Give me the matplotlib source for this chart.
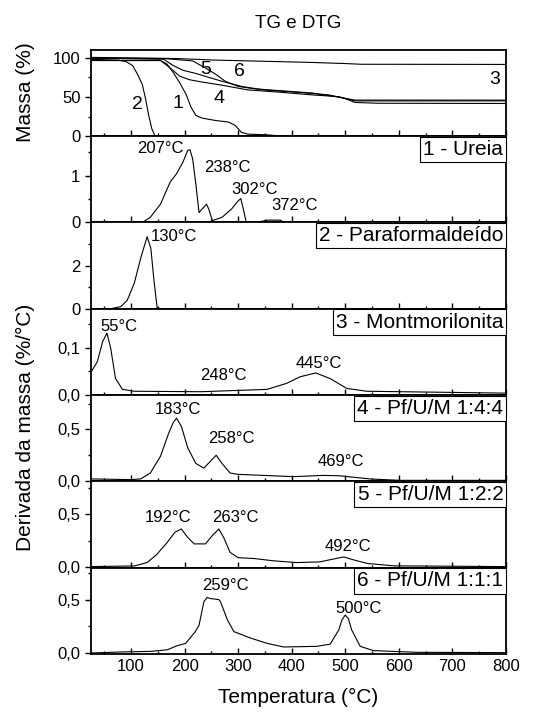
import matplotlib
matplotlib.use("Agg")
import matplotlib.pyplot as plt
from matplotlib.ticker import MultipleLocator, FixedLocator, FuncFormatter

plt.rcParams['font.family'] = ['Liberation Sans', 'DejaVu Sans']

# TG curves (temperature, mass %)
tg1_t = [25, 155, 167, 179, 191, 203, 212, 221, 233, 258, 282, 294, 306, 318, 355, 379, 800]
tg1_m = [96.5, 96.5, 92, 81, 68, 53, 37, 26.5, 23, 20, 18, 14, 5, 2.6, 1.7, 0.2, 0.2]
tg2_t = [25, 76, 91, 103, 112, 121, 127, 133, 139, 145, 800]
tg2_m = [98, 97, 95, 90, 79, 66, 48, 26.5, 9, 0, 0]
tg3_t = [25, 185, 258, 379, 439, 500, 530, 800]
tg3_m = [100.5, 99, 97, 95, 94, 92.6, 91.7, 91.5]
tg4_t = [25, 155, 173, 191, 209, 233, 270, 318, 379, 439, 488, 500, 518, 561, 800]
tg4_m = [96.5, 96.5, 87, 76.5, 72, 69, 65, 59, 56, 52.6, 50.4, 48, 43, 42, 41.7]
tg5_t = [25, 161, 179, 197, 221, 245, 270, 306, 348, 409, 470, 500, 518, 800]
tg5_m = [99.5, 98, 90, 84, 80, 75, 70, 63.5, 59, 56, 52.6, 48, 45, 45]
tg6_t = [25, 161, 215, 239, 258, 276, 300, 330, 379, 439, 494, 518, 800]
tg6_m = [99.5, 99, 96, 87, 79, 70, 63.5, 60.4, 58, 55, 49, 46, 46]

# DTG curves (temperature, %/°C)
d1_t = [25, 124, 136, 155, 173, 185, 197, 206, 210, 215, 221, 227, 233, 241, 245, 252, 270, 288,
        300, 305, 309, 315, 342, 355, 379, 385, 800]
d1_v = [0, 0.02, 0.11, 0.39, 0.86, 1.04, 1.29, 1.54, 1.55, 1.36, 0.82, 0.21, 0.29, 0.39, 0.29,
        0.04, 0.11, 0.29, 0.46, 0.51, 0.32, 0.01, 0.02, 0.05, 0.05, 0, 0]
d2_t = [25, 62, 81, 93, 106, 118, 130, 137, 143, 149, 800]
d2_v = [0, 0, 0.1, 0.4, 1.18, 2.34, 3.34, 2.8, 1.26, 0, 0]
d3_t = [26, 37, 47, 55, 62, 71, 84, 106, 230, 354, 391, 416, 445, 472, 503, 540, 800]
d3_v = [0.049, 0.07, 0.113, 0.131, 0.099, 0.034, 0.011, 0.007, 0.006, 0.011, 0.024, 0.038,
        0.046, 0.034, 0.013, 0.007, 0.003]
d4_t = [26, 100, 118, 136, 155, 170, 179, 185, 194, 206, 221, 236, 248, 259, 270, 285, 300,
        348, 403, 458, 488, 512, 548, 603, 800]
d4_v = [0.02, 0.013, 0.02, 0.077, 0.24, 0.46, 0.57, 0.61, 0.53, 0.32, 0.17, 0.125, 0.19, 0.25,
        0.17, 0.077, 0.064, 0.054, 0.042, 0.054, 0.051, 0.038, 0.019, 0.006, 0.006]
d5_t = [26, 106, 130, 148, 167, 182, 194, 206, 218, 239, 252, 264, 273, 285, 300, 330, 367,
        409, 452, 476, 497, 518, 542, 591, 800]
d5_v = [0.006, 0.012, 0.044, 0.12, 0.23, 0.33, 0.36, 0.28, 0.22, 0.22, 0.30, 0.36, 0.28, 0.14,
        0.09, 0.082, 0.06, 0.044, 0.05, 0.075, 0.097, 0.066, 0.035, 0.013, 0.006]
d6_t = [26, 87, 137, 168, 186, 202, 220, 227, 236, 242, 248, 264, 267, 280, 292, 323, 354, 385,
        447, 472, 488, 494, 500, 506, 512, 528, 553, 634, 800]
d6_v = [0, 0.01, 0.015, 0.03, 0.068, 0.09, 0.2, 0.26, 0.48, 0.52, 0.51, 0.5, 0.48, 0.31, 0.2,
        0.14, 0.09, 0.056, 0.062, 0.083, 0.216, 0.31, 0.355, 0.32, 0.216, 0.062, 0.022, 0.006,
        0.003]

names = ['1 - Ureia', '2 - Paraformaldeído', '3 - Montmorilonita',
         '4 - Pf/U/M 1:4:4', '5 - Pf/U/M 1:2:2', '6 - Pf/U/M 1:1:1']

# peak labels: (temperature, value, text) per DTG panel
peaks = [
    [(155, 1.57, '207°C'), (279, 1.18, '238°C'), (330, 0.71, '302°C'), (406, 0.36, '372°C')],
    [(180, 3.34, '130°C')],
    [(78, 0.145, '55°C'), (273, 0.041, '248°C'), (450, 0.066, '445°C')],
    [(188, 0.69, '183°C'), (288, 0.41, '258°C'), (491, 0.19, '469°C')],
    [(170, 0.47, '192°C'), (294, 0.47, '263°C'), (506, 0.2, '492°C')],
    [(276, 0.63, '259°C'), (525, 0.42, '500°C')],
]

dtg = [(d1_t, d1_v), (d2_t, d2_v), (d3_t, d3_v), (d4_t, d4_v), (d5_t, d5_v), (d6_t, d6_v)]
ylims = [(0, 1.84), (0, 4.0), (-0.001, 0.183), (-0.003, 0.835), (-0.003, 0.81), (-0.008, 0.80)]
yticks = [[0, 1], [0, 2], [0, 0.1], [0, 0.5], [0, 0.5], [0, 0.5]]
yminor = [[0.5, 1.5], [1, 3], [0.05, 0.15], [0.25, 0.75], [0.25, 0.75], [0.25, 0.75]]
decimal = [False, False, True, True, True, True]

fig, axes = plt.subplots(7, 1, figsize=(5.41, 7.13), dpi=100, sharex=True,
                         gridspec_kw={'hspace': 0})
fig.subplots_adjust(left=0.168, right=0.935, top=0.930, bottom=0.083)

lw = 0.8
tick_fs = 12
# TG panel
ax = axes[0]
for t, m in [(tg1_t, tg1_m), (tg2_t, tg2_m), (tg3_t, tg3_m),
             (tg4_t, tg4_m), (tg5_t, tg5_m), (tg6_t, tg6_m)]:
    ax.plot(t, m, color='black', lw=lw)
ax.set_ylim(0, 110)
ax.yaxis.set_major_locator(FixedLocator([0, 50, 100]))
ax.yaxis.set_minor_locator(FixedLocator([25, 75]))
for t, m, s in [(188, 42, '1'), (112, 40, '2'), (779, 72, '3'), (264, 48, '4'),
                (239, 85, '5'), (303, 82, '6')]:
    ax.text(t, m, s, fontsize=14, ha='center', va='center')
ax.set_title('TG e DTG', fontsize=13.5, pad=16)

for i, (t, v) in enumerate(dtg):
    ax = axes[i + 1]
    ax.plot(t, v, color='black', lw=lw)
    ax.set_ylim(*ylims[i])
    ax.yaxis.set_major_locator(FixedLocator(yticks[i]))
    ax.yaxis.set_minor_locator(FixedLocator(yminor[i]))
    if decimal[i]:
        ax.yaxis.set_major_formatter(FuncFormatter(lambda y, p: f'{y:.1f}'.replace('.', ',')))
    else:
        ax.yaxis.set_major_formatter(FuncFormatter(lambda y, p: f'{y:.0f}'))
    ax.text(0.994, 0.955, names[i], transform=ax.transAxes, ha='right', va='top', fontsize=15,
            bbox=dict(boxstyle='square,pad=0.15', fc='white', ec='black', lw=0.8))
    for pt, pv, s in peaks[i]:
        ax.text(pt, pv, s, fontsize=12, ha='center', va='center')

for ax in axes:
    ax.set_xlim(25, 800)
    ax.xaxis.set_major_locator(MultipleLocator(100))
    ax.xaxis.set_minor_locator(MultipleLocator(50))
    ax.tick_params(axis='x', which='major', direction='in', length=4.5, width=1, labelsize=tick_fs)
    ax.tick_params(axis='x', which='minor', direction='in', length=2.5, width=1)
    ax.tick_params(axis='y', which='major', direction='out', length=4, width=1, labelsize=tick_fs)
    ax.tick_params(axis='y', which='minor', direction='out', length=2.5, width=1)
    for sp in ax.spines.values():
        sp.set_linewidth(1.3)

axes[-1].set_xticks([100, 200, 300, 400, 500, 600, 700, 800])
axes[-1].set_xlabel('Temperatura (°C)', fontsize=15, labelpad=10)
fig.text(0.048, 0.401, 'Derivada da massa (%/°C)', rotation=90, ha='center', va='center',
         fontsize=15)
fig.text(0.048, 1 - 92 / 713, 'Massa (%)', rotation=90, ha='center', va='center', fontsize=15)

fig.savefig('out.png', dpi=100)
